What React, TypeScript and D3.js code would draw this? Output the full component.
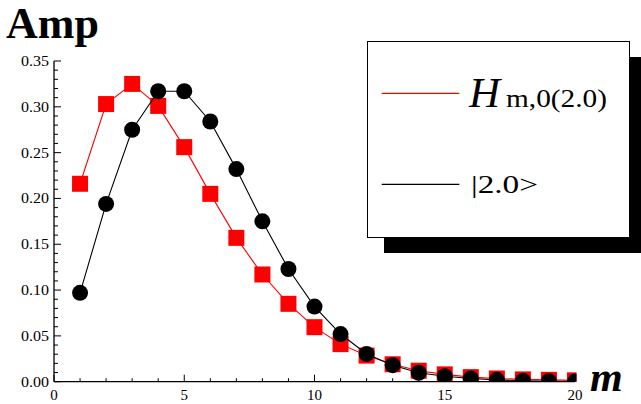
import React from "react";
import * as d3 from "d3";

const mValues = [1, 2, 3, 4, 5, 6, 7, 8, 9, 10, 11, 12, 13, 14, 15, 16, 17, 18, 19, 20];
const hermiteAmp = [0.216, 0.303, 0.325, 0.301, 0.256, 0.205, 0.157, 0.117, 0.085, 0.0595, 0.041, 0.0285, 0.019, 0.012, 0.008, 0.005, 0.0035, 0.0025, 0.002, 0.0015];
const coherentAmp = [0.097, 0.194, 0.275, 0.317, 0.317, 0.284, 0.232, 0.175, 0.123, 0.082, 0.052, 0.0303, 0.018, 0.0098, 0.006, 0.0035, 0.002, 0.001, 0.0005, 0.0002];
const xTicks = [0, 5, 10, 15, 20];
const yTicks = [0, 0.05, 0.1, 0.15, 0.2, 0.25, 0.3, 0.35];

const W = 641;
const H = 404;
const X0 = 54;
const X1 = 575;
const Y0 = 381.7;
const Y1 = 61;

export default function App() {
  const x = d3.scaleLinear().domain([0, 20]).range([X0, X1]);
  const y = d3.scaleLinear().domain([0, 0.35]).range([Y0, Y1]);
  const line = d3
    .line<number>()
    .x((_, i) => x(mValues[i]))
    .y((d) => y(d));
  const xMinor = d3.range(0, 21, 1);
  const yMinor = d3.range(0, 36, 1).map((v) => v / 100);

  return (
    <svg
      width={W}
      height={H}
      style={{ position: "absolute", left: 0, top: 0, background: "#fff", fontFamily: "Liberation Serif" }}
    >
      <defs>
        <clipPath id="plotclip">
          <rect x={X0} y={0} width={X1 - X0 + 1.5} height={Y0} />
        </clipPath>
      </defs>
      <rect x={0} y={0} width={W} height={H} fill="#fff" />

      {/* Title */}
      <text x={6} y={38} fontSize={44} fontWeight="bold">
        Amp
      </text>

      {/* Series */}
      <g clipPath="url(#plotclip)">
        <path d={line(hermiteAmp) || ""} fill="none" stroke="#ff0000" strokeWidth={1.1} />
        {hermiteAmp.map((v, i) => (
          <rect key={"s" + i} x={x(mValues[i]) - 8} y={y(v) - 8} width={16} height={16} fill="#ff0000" />
        ))}
        <path d={line(coherentAmp) || ""} fill="none" stroke="#000" strokeWidth={1.1} />
        {coherentAmp.map((v, i) => (
          <circle key={"c" + i} cx={x(mValues[i])} cy={y(v)} r={8} fill="#000" />
        ))}
      </g>

      {/* Axes */}
      <line x1={X0} y1={Y1} x2={X0} y2={Y0} stroke="#000" strokeWidth={1.3} />
      <line x1={X0} y1={Y0} x2={X1} y2={Y0} stroke="#000" strokeWidth={1.3} />
      {yMinor.map((v, i) => (
        <line key={"ym" + i} x1={X0} x2={X0 + (i % 5 === 0 ? 7 : 4)} y1={y(v)} y2={y(v)} stroke="#000" strokeWidth={1} />
      ))}
      {xMinor.map((v, i) => (
        <line key={"xm" + i} x1={x(v)} x2={x(v)} y1={Y0} y2={Y0 - (i % 5 === 0 ? 7 : 3.5)} stroke="#000" strokeWidth={1} />
      ))}
      {yTicks.map((v) => (
        <text
          key={"yl" + v}
          x={49}
          y={y(v) + 5}
          fontSize={15}
          textAnchor="end"
          textLength={28}
          lengthAdjust="spacingAndGlyphs"
        >
          {v.toFixed(2)}
        </text>
      ))}
      {xTicks.map((v) => (
        <text key={"xl" + v} x={x(v)} y={400} fontSize={15} textAnchor="middle">
          {v}
        </text>
      ))}
      <text x={590} y={391} fontSize={42} fontWeight="bold" fontStyle="italic">
        m
      </text>

      {/* Legend */}
      <rect x={384} y={57} width={270} height={196} fill="#000" />
      <rect x={367.5} y={41.5} width={262} height={196} fill="#fff" stroke="#000" strokeWidth={1} />
      <line x1={381.7} x2={459.3} y1={93.3} y2={93.3} stroke="#ff0000" strokeWidth={1.2} />
      <line x1={381.7} x2={459.3} y1={184.3} y2={184.3} stroke="#000" strokeWidth={1.2} />
      <text x={469} y={107} fontSize={43} fontStyle="italic">
        H
      </text>
      <text x={506} y={107} fontSize={25} textLength={101} lengthAdjust="spacingAndGlyphs">
        m,0(2.0)
      </text>
      <text x={471} y={193.3} fontSize={26} textLength={67} lengthAdjust="spacingAndGlyphs">
        |2.0&gt;
      </text>
    </svg>
  );
}
